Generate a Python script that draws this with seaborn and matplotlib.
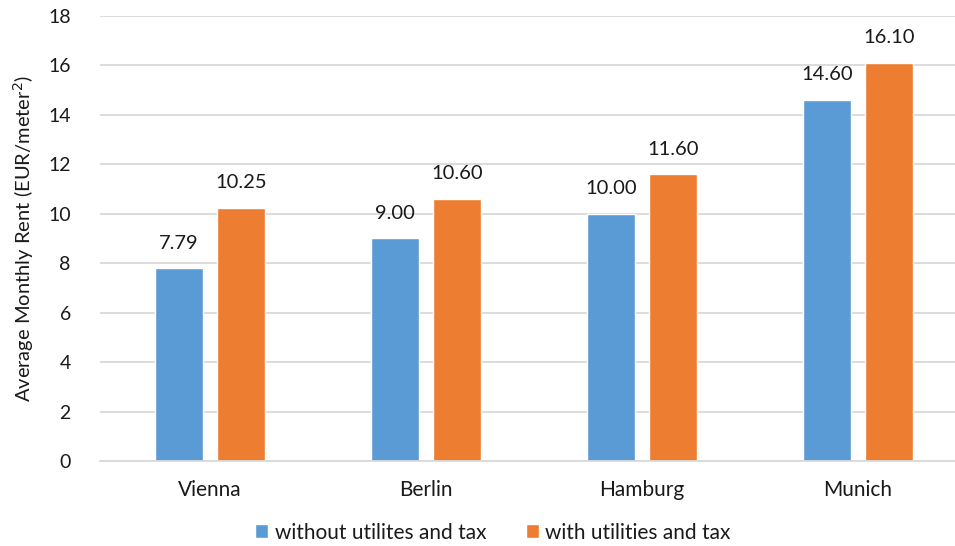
import matplotlib
matplotlib.use("Agg")
import matplotlib.pyplot as plt
import seaborn as sns
import pandas as pd

cities = ["Vienna", "Berlin", "Hamburg", "Munich"]
rent_without = [7.79, 9.00, 10.00, 14.60]
rent_with = [10.25, 10.60, 11.60, 16.10]
series_names = ["without utilites and tax", "with utilities and tax"]
y_ticks = [0, 2, 4, 6, 8, 10, 12, 14, 16, 18]

df = pd.DataFrame({
    "city": cities * 2,
    "rent": rent_without + rent_with,
    "series": [series_names[0]] * len(cities) + [series_names[1]] * len(cities),
})

sns.set_theme(style="white")
plt.rcParams["font.family"] = ["Lato", "DejaVu Sans"]

text_color = "#1a1a1a"
grid_color = "#d9d9d9"

fig = plt.figure(figsize=(9.55, 5.46), dpi=100)
ax = fig.add_axes([100 / 955, 0.1557, 855 / 955, 0.815])

palette = {series_names[0]: "#5B9BD5", series_names[1]: "#ED7D31"}
sns.barplot(data=df, x="city", y="rent", hue="series", order=cities,
            hue_order=series_names, palette=palette, width=0.57, gap=0.22,
            saturation=1, ax=ax, legend=True)

for cont in ax.containers:
    ax.bar_label(cont, fmt="%.2f", padding=12, fontsize=14.5, color=text_color)

ax.set_ylim(0, 18)
ax.set_xlim(-0.509, 3.449)
ax.set_yticks(y_ticks)
ax.yaxis.grid(True, color=grid_color, linewidth=1.3)
ax.set_axisbelow(True)
for side in ["top", "right", "left"]:
    ax.spines[side].set_visible(False)
ax.spines["bottom"].set_color(grid_color)
ax.spines["bottom"].set_linewidth(1.3)
ax.tick_params(axis="both", length=0, colors=text_color)
ax.tick_params(axis="y", pad=21, labelsize=14)
ax.tick_params(axis="x", pad=14, labelsize=15)
ax.set_xlabel("")
ax.set_ylabel("Average Monthly Rent (EUR/meter$^2$)", fontsize=14.5,
              color=text_color, labelpad=9)

handles, labels = ax.get_legend_handles_labels()
ax.get_legend().remove()
fig.legend(handles, labels, loc="lower center", bbox_to_anchor=(0.516, -0.028), ncol=2,
           frameon=False, fontsize=15, handlelength=0.65, handleheight=0.65,
           handletextpad=0.3, columnspacing=1.9, labelcolor=text_color)

fig.savefig("out.png", dpi=100)
